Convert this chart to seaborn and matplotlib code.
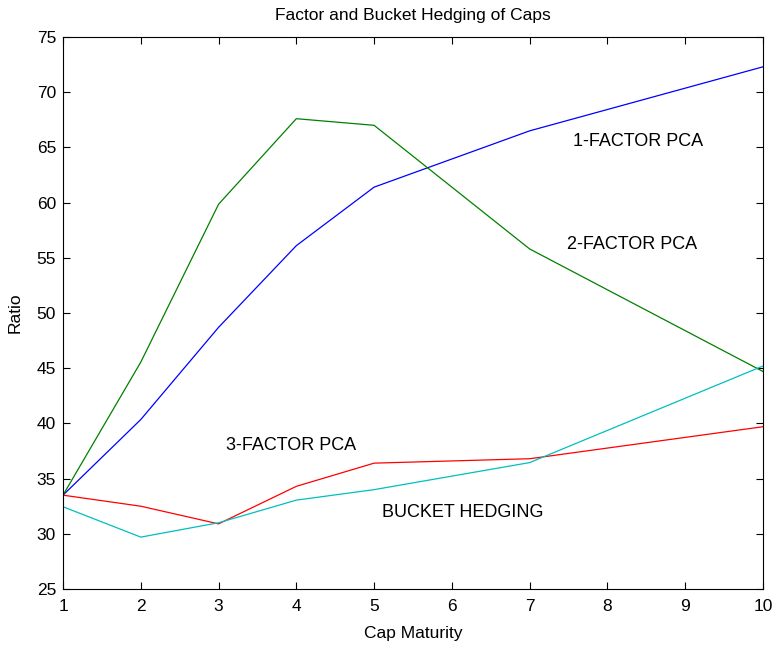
import matplotlib
matplotlib.use("Agg")
import matplotlib.pyplot as plt
import seaborn as sns
import pandas as pd

maturity = [1, 2, 3, 4, 5, 7, 10]
one_factor = [33.5, 40.35, 48.7, 56.1, 61.4, 66.5, 72.3]
two_factor = [33.5, 45.55, 59.85, 67.6, 67.0, 55.8, 44.7]
three_factor = [33.5, 32.5, 30.9, 34.3, 36.4, 36.8, 39.7]
bucket = [32.45, 29.7, 31.0, 33.05, 34.0, 36.45, 45.2]
series_names = ["1-FACTOR PCA", "2-FACTOR PCA", "3-FACTOR PCA", "BUCKET HEDGING"]
x_ticks = [1, 2, 3, 4, 5, 6, 7, 8, 9, 10]
y_ticks = [25, 30, 35, 40, 45, 50, 55, 60, 65, 70, 75]

rows = []
for name, vals in zip(series_names, [one_factor, two_factor, three_factor, bucket]):
    for m, v in zip(maturity, vals):
        rows.append({"Cap Maturity": m, "Ratio": v, "Series": name})
df = pd.DataFrame(rows)

sns.set_style("ticks")
plt.rcParams["font.family"] = ["Liberation Sans", "DejaVu Sans"]
plt.rcParams["text.color"] = "black"
plt.rcParams["axes.labelcolor"] = "black"

fig = plt.figure(figsize=(7.76, 6.46), dpi=100)
ax = fig.add_axes([63 / 776, 1 - 589 / 646, 700 / 776, 552 / 646])

palette = {"1-FACTOR PCA": "#0000ff", "2-FACTOR PCA": "#008000",
           "3-FACTOR PCA": "#ff0000", "BUCKET HEDGING": "#00bfbf"}
sns.lineplot(data=df, x="Cap Maturity", y="Ratio", hue="Series", palette=palette,
             linewidth=0.9, legend=False, ax=ax, sort=False)

ax.set_xlim(1, 10)
ax.set_ylim(25, 75)
ax.set_xticks(x_ticks)
ax.set_yticks(y_ticks)
ax.tick_params(direction="in", top=True, right=True, length=5, width=0.8,
               labelsize=12.5, colors="black")
ax.tick_params(axis="x", pad=7)
ax.tick_params(axis="y", pad=5)
for s in ax.spines.values():
    s.set_visible(True)
    s.set_linewidth(0.8)
    s.set_color("black")

ax.set_xlabel("Cap Maturity", fontsize=12.5, labelpad=9, color="black")
ax.set_ylabel("Ratio", fontsize=12.5, labelpad=10, color="black")
ax.set_title("Factor and Bucket Hedging of Caps", fontsize=12.5, pad=12, color="black")

ax.text(8.39, 65.5, "1-FACTOR PCA", fontsize=13, ha="center", va="center", color="black")
ax.text(8.32, 56.2, "2-FACTOR PCA", fontsize=13, ha="center", va="center", color="black")
ax.text(3.93, 38.0, "3-FACTOR PCA", fontsize=13, ha="center", va="center", color="black")
ax.text(6.14, 31.9, "BUCKET HEDGING", fontsize=13, ha="center", va="center", color="black")

fig.savefig("out.png", dpi=100)
